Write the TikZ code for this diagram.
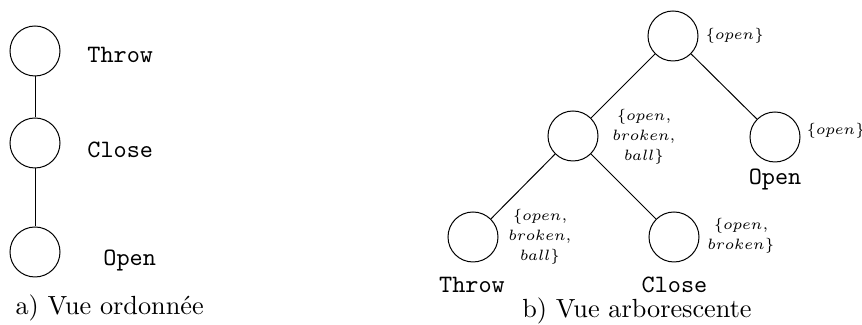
\documentclass[tikz,border=0pt]{standalone}
\usepackage{tikz}

\tikzset{
  state/.style={draw, circle, minimum size=20pt, inner sep=0pt},
  action/.style={font=\ttfamily, inner sep=0pt},
  facts/.style={font=\fontsize{6.4}{8}\selectfont, align=center, inner sep=0pt},
  caption/.style={font=\fontsize{10.5}{12}\selectfont, inner sep=0pt}
}

\begin{document}
\begin{tikzpicture}[x=0.4pt,y=-0.4pt]
\useasboundingbox (0,0) rectangle (862,325);
%% a) ordered view
\node[state] (o1) at (35,51) {};
\node[state] (o2) at (35,143) {};
\node[state] (o3) at (35,252) {};
\draw (o1) -- (o2);
\draw (o2) -- (o3);
\node[action, anchor=base west] (lthrow) at (87,63) {Throw};
\node[action, anchor=base west] (lclose) at (87,158) {Close};
\node[action, anchor=base west] (lopen) at (103,266) {Open};
\node[caption, anchor=base west] (capa) at (15,315) {a) Vue ordonnée};
%% b) tree view
\node[state] (root) at (673,36) {};
\node[state] (mid) at (573,136) {};
\node[state] (right) at (775,137) {};
\node[state] (bthrow) at (473,237) {};
\node[state] (bclose) at (674,237) {};
\draw (root) -- (mid);
\draw (root) -- (right);
\draw (mid) -- (bthrow);
\draw (mid) -- (bclose);
\node[facts, anchor=west] (froot) at (705,36) {$\{open\}$};
\node[facts] (fmid) at (644,137) {$\{open,$\\$broken,$\\$ball\}$};
\node[facts, anchor=west] (fright) at (806,131) {$\{open\}$};
\node[facts] (fthrow) at (540,237) {$\{open,$\\$broken,$\\$ball\}$};
\node[facts] (fclose) at (741,236) {$\{open,$\\$broken\}$};
\node[action, anchor=base] (ropen) at (775,185) {Open};
\node[action, anchor=base] (rthrow) at (472,293) {Throw};
\node[action, anchor=base] (rclose) at (674.5,293) {Close};
\node[caption, anchor=base] (capb) at (637,318) {b) Vue arborescente};
\end{tikzpicture}
\end{document}
